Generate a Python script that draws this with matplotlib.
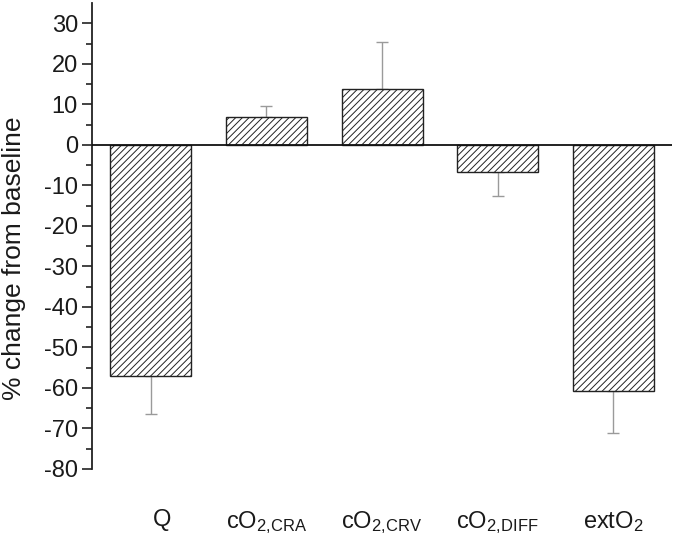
import matplotlib
matplotlib.use("Agg")
import matplotlib.pyplot as plt
import matplotlib.transforms as mtransforms
import numpy as np

categories = [r"Q", r"cO$_{2,\!\mathrm{CRA}}$", r"cO$_{2,\!\mathrm{CRV}}$", r"cO$_{2,\!\mathrm{DIFF}}$", r"extO$_2$"]
values = [-57.0, 6.8, 13.7, -6.7, -60.7]
errors = [9.4, 2.8, 11.7, 5.9, 10.5]
yticks = list(range(-80, 31, 10))

plt.rcParams["font.family"] = ["Liberation Sans", "DejaVu Sans"]
plt.rcParams["mathtext.fontset"] = "custom"
plt.rcParams["mathtext.rm"] = "Liberation Sans"
plt.rcParams["mathtext.it"] = "Liberation Sans:italic"
plt.rcParams["mathtext.bf"] = "Liberation Sans:bold"
plt.rcParams["hatch.color"] = "#6e6e6e"
plt.rcParams["hatch.linewidth"] = 0.7

fig = plt.figure(figsize=(6.75, 5.43), dpi=100)
ax = fig.add_axes([0.136, 0.1363, 0.86, 0.8582])

x = np.arange(len(categories))
vals = np.array(values)
errs = np.array(errors)
lower = np.where(vals < 0, errs, 0)
upper = np.where(vals >= 0, errs, 0)

ax.errorbar(x, vals, yerr=[lower, upper], fmt="none", ecolor="#9a9a9a",
            elinewidth=1.0, capsize=4.5, capthick=1.0, zorder=1)
ax.bar(x, vals, width=0.7, facecolor="white", edgecolor="#222222",
       linewidth=1.0, hatch="/////", zorder=2)

ax.axhline(0, color="#111111", linewidth=1.3, zorder=3)

ax.set_xlim(-0.51, 4.51)
ax.set_ylim(-80, 35)
ax.set_yticks(yticks)
ax.set_yticks(np.arange(-75, 31, 10), minor=True)
ax.set_yticklabels([str(t) for t in yticks], fontsize=17, color="#1a1a1a")
ax.tick_params(axis="y", which="major", direction="out", length=7, width=1.2, color="#222222", pad=3)
ax.tick_params(axis="y", which="minor", direction="out", length=4, width=1.2, color="#222222")

ax.set_xticks(x)
ax.set_xticklabels(categories, fontsize=17, color="#1a1a1a")
ax.tick_params(axis="x", which="both", length=0, pad=29)
# the first label sits slightly right of its bar in the reference
q_label = ax.get_xticklabels()[0]
q_label.set_transform(q_label.get_transform() + mtransforms.ScaledTranslation(8 / 72, 0, fig.dpi_scale_trans))

for s in ["top", "right", "bottom"]:
    ax.spines[s].set_visible(False)
ax.spines["left"].set_color("#222222")
ax.spines["left"].set_linewidth(1.3)

ax.set_ylabel("% change from baseline", fontsize=19, color="#1a1a1a")
ax.yaxis.set_label_coords(-0.114, 0.452)

fig.savefig("out.png", dpi=100)
